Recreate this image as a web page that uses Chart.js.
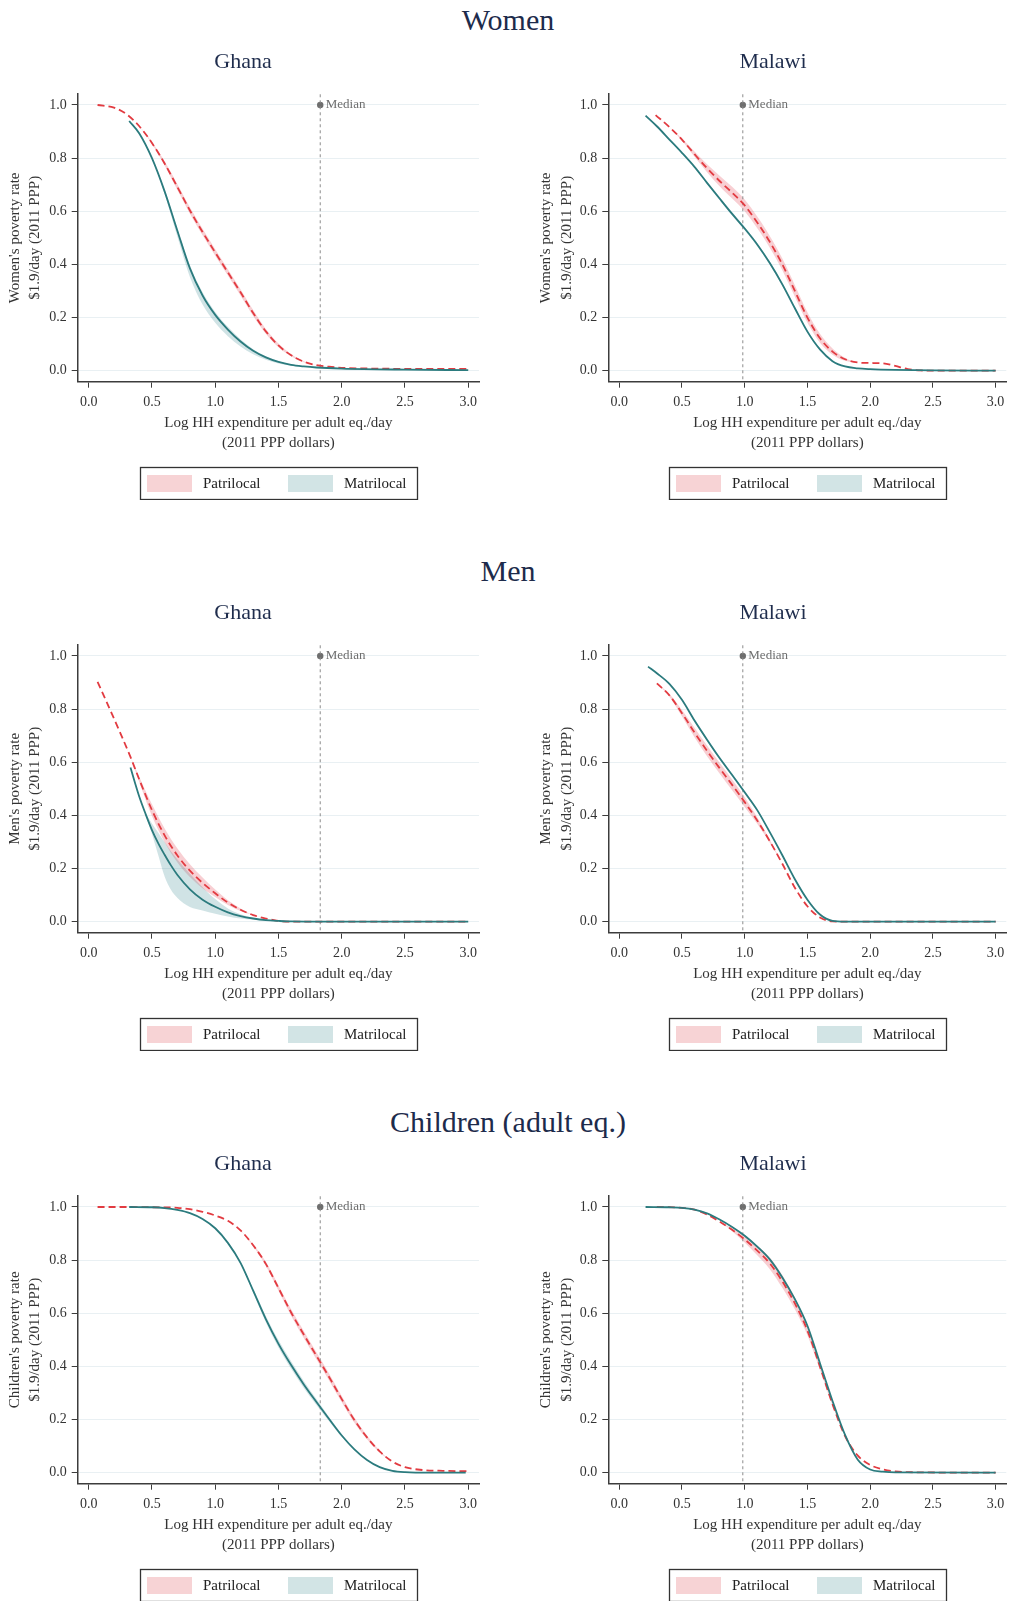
<!DOCTYPE html>
<html>
<head>
<meta charset="utf-8">
<script src="https://cdn.jsdelivr.net/npm/chart.js@4.4.1/dist/chart.umd.min.js"></script>
<style>
  html, body { margin: 0; padding: 0; background: #fff; }
  body { width: 1011px; height: 1601px; position: relative; overflow: hidden; font-family: "Liberation Serif", "Times New Roman", serif; }
  .rowtitle { position: absolute; left: 0; width: 1016px; text-align: center; font-size: 30px; line-height: 30px; color: #1d2b4b; }
  canvas { position: absolute; }
</style>
</head>
<body>
<div class="rowtitle" style="top:5px">Women</div>
<div class="rowtitle" style="top:556px">Men</div>
<div class="rowtitle" style="top:1107px">Children (adult eq.)</div>

<canvas id="wGh" width="486" height="462" style="left:0;top:38px"></canvas>
<canvas id="wMw" width="476" height="462" style="left:535px;top:38px"></canvas>
<canvas id="mGh" width="486" height="462" style="left:0;top:589px"></canvas>
<canvas id="mMw" width="476" height="462" style="left:535px;top:589px"></canvas>
<canvas id="cGh" width="486" height="462" style="left:0;top:1140px"></canvas>
<canvas id="cMw" width="476" height="462" style="left:535px;top:1140px"></canvas>

<script>
// axis ticks and labels
const xTicks = [0, 0.5, 1, 1.5, 2, 2.5, 3];
const yTicks = [0, 0.2, 0.4, 0.6, 0.8, 1];
const xTitle = ['Log HH expenditure per adult eq./day', '(2011 PPP dollars)'];
const legendLabels = ['Patrilocal', 'Matrilocal'];

// medians of log expenditure
const medGhana = 1.83;
const medMalawi = 0.985;

// Women - Ghana
const wGhPatriX = [0.07, 0.2, 0.3, 0.4, 0.5, 0.6, 0.7, 0.8, 0.9, 1.0, 1.1, 1.2, 1.3, 1.4, 1.5, 1.6, 1.7, 1.8, 1.9, 2.0, 2.25, 2.5, 2.75, 3.0];
const wGhPatriY = [1.0, 0.99, 0.965, 0.92, 0.857, 0.78, 0.692, 0.603, 0.522, 0.445, 0.37, 0.295, 0.217, 0.148, 0.095, 0.058, 0.034, 0.021, 0.015, 0.011, 0.008, 0.007, 0.007, 0.007];
const wGhPatriCi = [0, 0, 0, 0, 0.004, 0.008, 0.011, 0.012, 0.012, 0.012, 0.012, 0.012, 0.011, 0.009, 0.007, 0.004, 0.002, 0, 0, 0, 0, 0, 0, 0];
const wGhMatriX = [0.32, 0.4, 0.5, 0.6, 0.7, 0.8, 0.9, 1.0, 1.1, 1.2, 1.3, 1.4, 1.5, 1.6, 1.7, 1.8, 2.0, 2.5, 3.0];
const wGhMatriY = [0.94, 0.893, 0.80, 0.675, 0.528, 0.385, 0.283, 0.21, 0.155, 0.11, 0.075, 0.05, 0.033, 0.022, 0.016, 0.012, 0.008, 0.004, 0.002];
const wGhMatriCiLo = [0, 0, 0, 0.01, 0.022, 0.032, 0.034, 0.03, 0.025, 0.019, 0.013, 0.009, 0.006, 0.003, 0, 0, 0, 0, 0];
const wGhMatriCiHi = [0, 0, 0, 0.006, 0.01, 0.012, 0.012, 0.011, 0.01, 0.008, 0.006, 0.004, 0.003, 0.001, 0, 0, 0, 0, 0];

// Women - Malawi
const wMwPatriX = [0.29, 0.4, 0.5, 0.6, 0.7, 0.8, 0.9, 1.0, 1.1, 1.2, 1.3, 1.4, 1.5, 1.6, 1.7, 1.8, 1.9, 2.0, 2.1, 2.2, 2.3, 2.4, 2.6, 3.0];
const wMwPatriY = [0.962, 0.917, 0.87, 0.815, 0.762, 0.714, 0.67, 0.622, 0.558, 0.485, 0.40, 0.30, 0.2, 0.122, 0.072, 0.043, 0.031, 0.029, 0.028, 0.018, 0.006, 0.001, 0.0, 0.0];
const wMwPatriCi = [0, 0, 0.005, 0.01, 0.015, 0.02, 0.022, 0.022, 0.022, 0.022, 0.022, 0.022, 0.02, 0.017, 0.012, 0.006, 0, 0, 0, 0, 0, 0, 0, 0];
const wMwMatriX = [0.21, 0.3, 0.4, 0.5, 0.6, 0.7, 0.8, 0.9, 1.0, 1.1, 1.2, 1.3, 1.4, 1.5, 1.6, 1.7, 1.8, 1.9, 2.0, 2.2, 2.5, 3.0];
const wMwMatriY = [0.96, 0.92, 0.87, 0.82, 0.767, 0.707, 0.648, 0.59, 0.535, 0.475, 0.405, 0.325, 0.235, 0.147, 0.08, 0.036, 0.016, 0.009, 0.006, 0.003, 0.001, 0.0];
const wMwMatriCi = [0, 0, 0, 0, 0, 0.004, 0.006, 0.006, 0.006, 0.006, 0.006, 0.006, 0.006, 0.005, 0.004, 0, 0, 0, 0, 0, 0, 0];

// Men - Ghana
const mGhPatriX = [0.07, 0.15, 0.25, 0.33, 0.4, 0.5, 0.6, 0.7, 0.8, 0.9, 1.0, 1.1, 1.2, 1.3, 1.4, 1.5, 1.6, 2.0, 3.0];
const mGhPatriY = [0.903, 0.818, 0.71, 0.62, 0.535, 0.42, 0.325, 0.25, 0.192, 0.146, 0.107, 0.072, 0.045, 0.025, 0.012, 0.003, 0.0, 0.0, 0.0];
const mGhPatriCi = [0, 0, 0, 0, 0.01, 0.022, 0.026, 0.026, 0.024, 0.02, 0.014, 0.009, 0.005, 0, 0, 0, 0, 0, 0];
const mGhMatriX = [0.33, 0.4, 0.45, 0.5, 0.55, 0.6, 0.65, 0.7, 0.8, 0.9, 1.0, 1.1, 1.2, 1.3, 1.4, 1.5, 1.6, 2.0, 3.0];
const mGhMatriY = [0.58, 0.47, 0.405, 0.345, 0.295, 0.252, 0.212, 0.177, 0.122, 0.083, 0.056, 0.035, 0.021, 0.012, 0.006, 0.003, 0.001, 0.0, 0.0];
const mGhMatriCiLo = [0, 0, 0.005, 0.015, 0.045, 0.082, 0.092, 0.087, 0.067, 0.041, 0.026, 0.015, 0.009, 0.004, 0, 0, 0, 0, 0];
const mGhMatriCiHi = [0, 0, 0.005, 0.025, 0.04, 0.048, 0.053, 0.058, 0.058, 0.047, 0.029, 0.015, 0.007, 0.002, 0, 0, 0, 0, 0];

// Men - Malawi
const mMwPatriX = [0.3, 0.4, 0.5, 0.6, 0.7, 0.8, 0.9, 1.0, 1.1, 1.2, 1.3, 1.4, 1.5, 1.6, 1.7, 1.8, 2.0, 3.0];
const mMwPatriY = [0.897, 0.852, 0.785, 0.712, 0.643, 0.578, 0.515, 0.45, 0.381, 0.303, 0.218, 0.128, 0.058, 0.016, 0.001, 0.0, 0.0, 0.0];
const mMwPatriCi = [0, 0.005, 0.012, 0.018, 0.02, 0.02, 0.02, 0.018, 0.012, 0.006, 0, 0, 0, 0, 0, 0, 0, 0];
const mMwMatriX = [0.23, 0.3, 0.4, 0.5, 0.6, 0.7, 0.8, 0.9, 1.0, 1.1, 1.2, 1.3, 1.4, 1.5, 1.6, 1.7, 1.8, 2.0, 3.0];
const mMwMatriY = [0.96, 0.935, 0.895, 0.835, 0.757, 0.685, 0.616, 0.552, 0.487, 0.42, 0.337, 0.25, 0.16, 0.083, 0.027, 0.003, 0.0, 0.0, 0.0];
const mMwMatriCi = [0, 0, 0, 0, 0.004, 0.005, 0.005, 0.005, 0.005, 0.004, 0, 0, 0, 0, 0, 0, 0, 0, 0];

// Children - Ghana
const cGhPatriX = [0.07, 0.3, 0.5, 0.7, 0.8, 0.9, 1.0, 1.1, 1.2, 1.3, 1.4, 1.5, 1.6, 1.7, 1.8, 1.9, 2.0, 2.1, 2.2, 2.3, 2.4, 2.5, 2.6, 2.8, 3.0];
const cGhPatriY = [1.0, 1.0, 0.999, 0.997, 0.992, 0.982, 0.968, 0.948, 0.912, 0.856, 0.786, 0.695, 0.603, 0.52, 0.44, 0.36, 0.277, 0.198, 0.133, 0.08, 0.042, 0.021, 0.012, 0.007, 0.006];
const cGhPatriCi = [0, 0, 0, 0, 0, 0, 0, 0, 0, 0.004, 0.008, 0.01, 0.012, 0.013, 0.013, 0.013, 0.012, 0.01, 0.007, 0.004, 0, 0, 0, 0, 0];
const cGhMatriX = [0.32, 0.5, 0.6, 0.7, 0.8, 0.9, 1.0, 1.1, 1.2, 1.3, 1.4, 1.5, 1.6, 1.7, 1.8, 1.9, 2.0, 2.1, 2.2, 2.3, 2.4, 2.5, 2.7, 2.98];
const cGhMatriY = [1.0, 0.999, 0.996, 0.989, 0.977, 0.955, 0.92, 0.865, 0.79, 0.685, 0.578, 0.485, 0.405, 0.332, 0.266, 0.202, 0.14, 0.088, 0.048, 0.021, 0.007, 0.002, 0.0, 0.0];
const cGhMatriCi = [0, 0, 0, 0, 0, 0, 0, 0, 0.004, 0.008, 0.012, 0.014, 0.014, 0.013, 0.011, 0.008, 0.005, 0, 0, 0, 0, 0, 0, 0];

// Children - Malawi
const cMwPatriX = [0.3, 0.5, 0.6, 0.7, 0.8, 0.9, 1.0, 1.1, 1.2, 1.3, 1.4, 1.5, 1.6, 1.7, 1.8, 1.9, 2.0, 2.1, 2.2, 2.3, 3.0];
const cMwPatriY = [1.0, 0.997, 0.99, 0.972, 0.945, 0.914, 0.878, 0.836, 0.788, 0.72, 0.637, 0.535, 0.399, 0.258, 0.138, 0.065, 0.029, 0.013, 0.005, 0.002, 0.0];
const cMwPatriCi = [0, 0, 0, 0, 0, 0.005, 0.012, 0.018, 0.022, 0.024, 0.022, 0.018, 0.012, 0.006, 0, 0, 0, 0, 0, 0, 0];
const cMwMatriX = [0.21, 0.4, 0.5, 0.6, 0.7, 0.8, 0.9, 1.0, 1.1, 1.2, 1.3, 1.4, 1.5, 1.6, 1.7, 1.8, 1.9, 2.0, 2.1, 2.2, 3.0];
const cMwMatriY = [1.0, 0.999, 0.997, 0.99, 0.976, 0.953, 0.925, 0.892, 0.851, 0.803, 0.735, 0.653, 0.553, 0.412, 0.27, 0.142, 0.05, 0.012, 0.004, 0.001, 0.0];
const cMwMatriCi = [0, 0, 0, 0, 0, 0, 0, 0.004, 0.004, 0.004, 0.004, 0.004, 0.004, 0, 0, 0, 0, 0, 0, 0, 0];

const fontFamily = '"Liberation Serif", "Times New Roman", serif';
const red = '#e23b41';
const teal = '#2b7b7e';
const axisColor = '#3c3c3c';
const pinkFill = 'rgba(232, 96, 108, 0.3)';
const tealFill = 'rgba(58, 140, 146, 0.24)';
const swatches = ['#f7d3d5', '#d2e4e5'];

function pts(xs, ys) {
    return xs.map((x, i) => ({x: x, y: ys[i]}));
}

function lineSet(label, xs, ys, color, dash, order) {
    return {
        label: label, data: pts(xs, ys), borderColor: color, borderWidth: 1.8,
        borderDash: dash, pointRadius: 0, fill: false,
        cubicInterpolationMode: 'monotone', order: order
    };
}

/** one edge of a confidence band: fillTo is the dataset index of the other edge */
function bandSet(xs, ys, ci, sign, fillTo, order, color) {
    return {
        label: 'band', data: xs.map((x, i) => ({x: x, y: ys[i] + sign * ci[i]})),
        borderWidth: 0, borderColor: 'rgba(0,0,0,0)', pointRadius: 0,
        fill: fillTo, backgroundColor: color || 'rgba(0,0,0,0)',
        cubicInterpolationMode: 'monotone', order: order
    };
}

// country name, centred over the whole panel
const panelTitle = {
    id: 'panelTitle',
    afterDraw(chart, args, opts) {
        const ctx = chart.ctx;
        ctx.save();
        ctx.font = '22px ' + fontFamily;
        ctx.fillStyle = '#1f2d4d';
        ctx.textAlign = 'center';
        ctx.textBaseline = 'alphabetic';
        ctx.fillText(opts.text, chart.width / 2, 30.3);
        ctx.restore();
    }
};

const medianLabel = {
    id: 'medianLabel',
    afterDatasetsDraw(chart, args, opts) {
        const x = chart.scales.x.getPixelForValue(opts.value);
        const y = chart.scales.y.getPixelForValue(1);
        const ctx = chart.ctx;
        ctx.save();
        ctx.font = '13px ' + fontFamily;
        ctx.fillStyle = '#6e6e6e';
        ctx.textAlign = 'left';
        ctx.textBaseline = 'middle';
        ctx.fillText('Median', x + 5.5, y);
        ctx.restore();
    }
};

// legend drawn as a framed box under the x axis title
const boxLegend = {
    id: 'boxLegend',
    afterDraw(chart) {
        const {ctx, chartArea} = chart;
        const w = 277, h = 32;
        const left = Math.round((chartArea.left + chartArea.right) / 2 - w / 2) + 0.5;
        const top = Math.round(chart.scales.x.bottom + 13.6) + 0.5;
        ctx.save();
        ctx.strokeStyle = '#333';
        ctx.lineWidth = 1.3;
        ctx.strokeRect(left, top, w, h);
        ctx.font = '15px ' + fontFamily;
        ctx.textBaseline = 'middle';
        legendLabels.forEach((lab, i) => {
            const off = i * 141;
            ctx.fillStyle = swatches[i];
            ctx.fillRect(left + 6.5 + off, top + 7.5, 45, 17);
            ctx.fillStyle = '#222';
            ctx.fillText(lab, left + 62.5 + off, top + 16.5);
        });
        ctx.restore();
    }
};

function makePanel(id, cfg) {
    const [pX, pY, pLo, pHi] = cfg.patri;
    const [mX, mY, mLo, mHi] = cfg.matri;
    return new Chart(document.getElementById(id), {
        type: 'line',
        data: {
            datasets: [
                lineSet('Matrilocal', mX, mY, teal, [], 0),
                lineSet('Patrilocal', pX, pY, red, [7, 4], 1),
                { label: 'median', data: [{x: cfg.median, y: -0.1}, {x: cfg.median, y: 1.1}],
                  borderColor: '#8c8c8c', borderWidth: 1, borderDash: [3, 3], pointRadius: 0, order: 2 },
                { label: 'median point', data: [{x: cfg.median, y: 1}], showLine: false,
                  pointRadius: 3.2, pointBackgroundColor: '#6e6e6e', pointBorderWidth: 0, order: 2 },
                bandSet(pX, pY, pHi, 1, false, 5),
                bandSet(pX, pY, pLo, -1, 4, 5, pinkFill),
                bandSet(mX, mY, mHi, 1, false, 4),
                bandSet(mX, mY, mLo, -1, 6, 4, tealFill)
            ]
        },
        plugins: [panelTitle, medianLabel, boxLegend],
        options: {
            responsive: false,
            animation: false,
            events: [],
            layout: { padding: { top: 56, left: 0, right: cfg.padRight, bottom: 46.6 }, autoPadding: false },
            plugins: {
                legend: { display: false },
                tooltip: { enabled: false },
                title: { display: false },
                panelTitle: { text: cfg.title },
                medianLabel: { value: cfg.median }
            },
            scales: {
                x: {
                    type: 'linear', min: -0.087, max: 3.085,
                    afterBuildTicks: s => { s.ticks = xTicks.map(v => ({value: v})); },
                    afterFit: s => { s.height = 71.7; },
                    grid: { drawOnChartArea: false, tickColor: axisColor, tickLength: 6 },
                    border: { color: axisColor, width: 1.5 },
                    ticks: { padding: 6.6, color: '#333', font: { family: fontFamily, size: 14 },
                             callback: v => v.toFixed(1), maxRotation: 0, autoSkip: false },
                    title: { display: true, text: xTitle, color: '#333',
                             font: { family: fontFamily, size: 15, lineHeight: 1.35 }, padding: { top: 0, bottom: 0 } }
                },
                y: {
                    min: -0.0414, max: 1.0414,
                    afterBuildTicks: s => { s.ticks = yTicks.map(v => ({value: v})); },
                    afterFit: s => { s.width = cfg.yWidth; },
                    grid: { color: '#e9f0f3', tickColor: axisColor, tickLength: 6 },
                    border: { color: axisColor, width: 1.5 },
                    ticks: { padding: 5, color: '#333', font: { family: fontFamily, size: 14 },
                             callback: v => v.toFixed(1) },
                    title: { display: true, text: cfg.yTitle, color: '#333',
                             font: { family: fontFamily, size: 15, lineHeight: 1.35 }, padding: { top: cfg.yTitlePad, bottom: 0 } }
                }
            }
        }
    });
}

const left = { title: 'Ghana', median: medGhana, yWidth: 77.7, yTitlePad: 4.9, padRight: 7 };
const right = { title: 'Malawi', median: medMalawi, yWidth: 73.3, yTitlePad: 1.2, padRight: 1 };
const ppp = '$1.9/day (2011 PPP)';

makePanel('wGh', Object.assign({}, left, { yTitle: ["Women's poverty rate", ppp],
    patri: [wGhPatriX, wGhPatriY, wGhPatriCi, wGhPatriCi], matri: [wGhMatriX, wGhMatriY, wGhMatriCiLo, wGhMatriCiHi] }));
makePanel('wMw', Object.assign({}, right, { yTitle: ["Women's poverty rate", ppp],
    patri: [wMwPatriX, wMwPatriY, wMwPatriCi, wMwPatriCi], matri: [wMwMatriX, wMwMatriY, wMwMatriCi, wMwMatriCi] }));
makePanel('mGh', Object.assign({}, left, { yTitle: ["Men's poverty rate", ppp],
    patri: [mGhPatriX, mGhPatriY, mGhPatriCi, mGhPatriCi], matri: [mGhMatriX, mGhMatriY, mGhMatriCiLo, mGhMatriCiHi] }));
makePanel('mMw', Object.assign({}, right, { yTitle: ["Men's poverty rate", ppp],
    patri: [mMwPatriX, mMwPatriY, mMwPatriCi, mMwPatriCi], matri: [mMwMatriX, mMwMatriY, mMwMatriCi, mMwMatriCi] }));
makePanel('cGh', Object.assign({}, left, { yTitle: ["Children's poverty rate", ppp],
    patri: [cGhPatriX, cGhPatriY, cGhPatriCi, cGhPatriCi], matri: [cGhMatriX, cGhMatriY, cGhMatriCi, cGhMatriCi] }));
makePanel('cMw', Object.assign({}, right, { yTitle: ["Children's poverty rate", ppp],
    patri: [cMwPatriX, cMwPatriY, cMwPatriCi, cMwPatriCi], matri: [cMwMatriX, cMwMatriY, cMwMatriCi, cMwMatriCi] }));
</script>
</body>
</html>
